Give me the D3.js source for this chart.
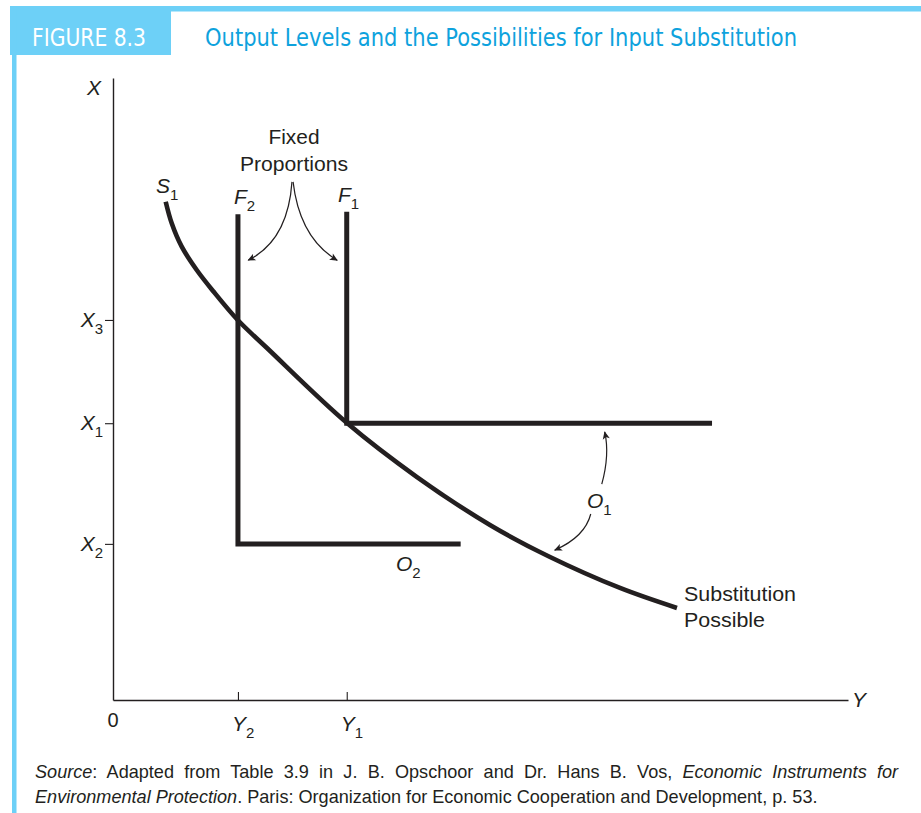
<!DOCTYPE html>
<html><head><meta charset="utf-8">
<script src="https://cdn.jsdelivr.net/npm/d3@7"></script>
<style>html,body{margin:0;padding:0;background:#fff;} svg{display:block;}</style>
</head><body>
<svg id="c" width="921" height="813"></svg>
<script>
// ---------------- data ----------------
const figLabel = "FIGURE 8.3";
const title = "Output Levels and the Possibilities for Input Substitution";
// substitution-possible isoquant S1 (horizontal quantity Y, vertical quantity X)
const curveYVals = [7.17, 7.99, 9.35, 11.39, 13.61, 16.97, 20.95, 31.84, 41.36, 51.29, 59.46, 68.98, 76.73];
const curveXVals = [80.11, 76.64, 72.88, 69.13, 65.76, 61.09, 56.59, 44.53, 35.85, 28.14, 22.99, 18.01, 14.79];
// fixed-proportion isoquants
const f1YVals = [31.8, 31.8, 81.5];
const f1XVals = [78.5, 44.5, 44.5];
const f2YVals = [17.0, 17.0, 47.3];
const f2XVals = [78.1, 25.1, 25.1];
// axis ticks
const xTickVals = [61.1, 44.5, 25.1];
const xTickSubs = ["3", "1", "2"];
const yTickVals = [17.0, 31.8];
const yTickSubs = ["2", "1"];
const sourceLine1 = [["Source", true], [": Adapted from Table 3.9 in J. B. Opschoor and Dr. Hans B. Vos, ", false], ["Economic Instruments for", true]];
const sourceLine2 = [["Environmental Protection", true], [". Paris: Organization for Economic Cooperation and Development, p. 53.", false]];

// ---------------- drawing ----------------
const svg = d3.select("#c");
const ink = "#231f20";
const frame = "#6dd0f7";
const font = "'Liberation Sans', Arial, Helvetica, sans-serif";

// frame
svg.append("rect").attr("x", 10).attr("y", 6).attr("width", 911).attr("height", 5.5).attr("fill", frame);
svg.append("rect").attr("x", 10).attr("y", 6).attr("width", 161).attr("height", 49).attr("fill", frame);
svg.append("rect").attr("x", 12).attr("y", 6).attr("width", 4.5).attr("height", 807).attr("fill", frame);

const condensed = "'DejaVu Sans Condensed','DejaVu Sans',sans-serif";
svg.append("text").attr("x", 32).attr("y", 46).attr("fill", "#fff")
  .attr("font-family", condensed).style("font-stretch", "condensed").attr("font-size", 24)
  .attr("textLength", 114).attr("lengthAdjust", "spacingAndGlyphs").text(figLabel);
svg.append("text").attr("x", 205).attr("y", 46).attr("fill", "#0ea2dd")
  .attr("font-family", condensed).style("font-stretch", "condensed").attr("font-size", 24)
  .attr("textLength", 592).attr("lengthAdjust", "spacingAndGlyphs").text(title);

// scales
const xs = d3.scaleLinear().domain([0, 100]).range([113, 848]);
const ys = d3.scaleLinear().domain([0, 100]).range([700, 78]);

// axes
const gx = svg.append("g").attr("transform", "translate(0,700)")
  .call(d3.axisBottom(xs).tickValues(yTickVals).tickSizeInner(-8).tickSizeOuter(0).tickFormat(""));
const gy = svg.append("g").attr("transform", "translate(113,0)")
  .call(d3.axisLeft(ys).tickValues(xTickVals).tickSizeInner(8).tickSizeOuter(0).tickFormat(""));
[gx, gy].forEach(g => {
  g.select(".domain").attr("stroke", ink).attr("stroke-width", 1.4);
  g.selectAll(".tick line").attr("stroke", ink).attr("stroke-width", 1.1);
});

// label helper
function label(x, y, main, sub, opts = {}) {
  const t = svg.append("text").attr("x", x).attr("y", y).attr("fill", ink)
    .attr("font-family", font).attr("font-size", opts.size || 21)
    .attr("text-anchor", opts.anchor || "start");
  t.append("tspan").attr("font-style", opts.upright ? "normal" : "italic").text(main);
  if (sub) t.append("tspan").attr("dy", 7).attr("font-size", 15).attr("font-style", "normal").text(sub);
  return t;
}

// axis labels
xTickVals.forEach((v, i) => label(103, ys(v) + 7, "X", xTickSubs[i], {anchor: "end"}));
yTickVals.forEach((v, i) => label(xs(v) - 6, 731, "Y", yTickSubs[i]));
label(xs(0), 727, "0", null, {upright: true, anchor: "middle", size: 20});
label(852, 707, "Y", null);
label(87, 95, "X", null);

// isoquants
const curvePts = curveYVals.map((v, i) => [v, curveXVals[i]]);
const smooth = d3.line().x(d => xs(d[0])).y(d => ys(d[1])).curve(d3.curveCatmullRom.alpha(0.5));
svg.append("path").attr("d", smooth(curvePts))
  .attr("fill", "none").attr("stroke", ink).attr("stroke-width", 4.6);
const straight = d3.line().x(d => xs(d[0])).y(d => ys(d[1]));
[[f1YVals, f1XVals], [f2YVals, f2XVals]].forEach(([a, b]) => {
  svg.append("path").attr("d", straight(a.map((v, i) => [v, b[i]])))
    .attr("fill", "none").attr("stroke", ink).attr("stroke-width", 5)
    .attr("stroke-linejoin", "miter");
});

// arrow marker
svg.append("defs").append("marker").attr("id", "ah")
  .attr("viewBox", "0 0 10 10").attr("refX", 9).attr("refY", 5)
  .attr("markerWidth", 9).attr("markerHeight", 8).attr("markerUnits", "userSpaceOnUse")
  .attr("orient", "auto")
  .append("path").attr("d", "M0,0.5 L10,5 L0,9.5 L2.5,5 Z").attr("fill", ink);

function arrow(p0, c, p1) {
  const p = d3.path();
  p.moveTo(xs(p0[0]), ys(p0[1]));
  p.quadraticCurveTo(xs(c[0]), ys(c[1]), xs(p1[0]), ys(p1[1]));
  svg.append("path").attr("d", p.toString()).attr("fill", "none")
    .attr("stroke", ink).attr("stroke-width", 1.2).attr("marker-end", "url(#ah)");
}
arrow([24.35, 83.3], [23.8, 73.9], [18.4, 70.7]);
arrow([24.5, 83.3], [25.4, 74.3], [30.5, 70.7]);
arrow([66.5, 34.7], [67.6, 39.4], [66.9, 43.1]);
arrow([65.0, 29.9], [64.2, 26.2], [60.1, 24.1]);

// chart annotations
label(294, 144, "Fixed", null, {upright: true, anchor: "middle", size: 20})
  .attr("textLength", 51).attr("lengthAdjust", "spacingAndGlyphs");
label(294, 171, "Proportions", null, {upright: true, anchor: "middle", size: 20})
  .attr("textLength", 108).attr("lengthAdjust", "spacingAndGlyphs");
label(156, 193, "S", "1");
label(234, 204, "F", "2");
label(338, 202, "F", "1");
label(396, 571, "O", "2");
label(587, 508, "O", "1");
label(684, 601, "Substitution", null, {upright: true, size: 20}).attr("textLength", 112).attr("lengthAdjust", "spacingAndGlyphs");
label(684, 627, "Possible", null, {upright: true, size: 20}).attr("textLength", 81).attr("lengthAdjust", "spacingAndGlyphs");

// source
function srcLine(parts, y, fs) {
  const t = svg.append("text").attr("x", 35).attr("y", y).attr("fill", ink)
    .attr("font-family", font).attr("font-size", fs);
  parts.forEach(([s, it]) => t.append("tspan").attr("font-style", it ? "italic" : "normal").text(s));
  return t;
}
let fs = 16.5;
const l2 = srcLine(sourceLine2, 803, fs);
const w2 = l2.node().getComputedTextLength();
fs = Math.max(15, Math.min(18.5, fs * 783 / w2));
l2.attr("font-size", fs);
const l1 = srcLine(sourceLine1, 778, fs);
const w1 = l1.node().getComputedTextLength();
const nSp = sourceLine1.map(p => p[0]).join("").split(" ").length - 1;
l1.attr("word-spacing", Math.max(0, (863 - w1) / nSp));
</script>
</body></html>
